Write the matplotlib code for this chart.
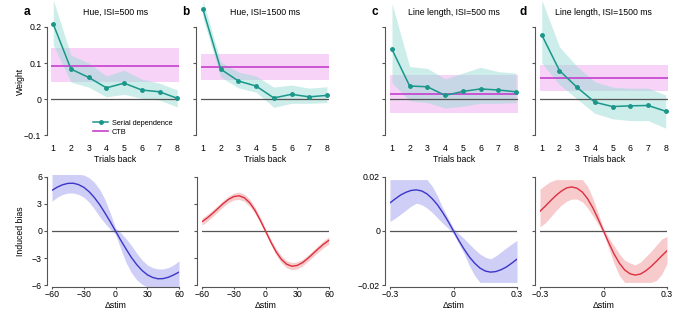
import matplotlib
matplotlib.use("Agg")
import matplotlib.pyplot as plt
import numpy as np

plt.rcParams['font.family'] = ['Liberation Sans', 'DejaVu Sans']
plt.rcParams['axes.unicode_minus'] = True

# ---------------- data: top row (weights vs trials back) ----------------
lags = [1, 2, 3, 4, 5, 6, 7, 8]

hue500_w = [0.208, 0.083, 0.060, 0.031, 0.044, 0.025, 0.020, 0.002]
hue500_hi = [0.275, 0.122, 0.100, 0.064, 0.080, 0.055, 0.044, 0.025]
hue500_lo = [0.150, 0.047, 0.033, 0.006, 0.013, 0.002, -0.003, -0.022]
hue500_ctb = [0.093, 0.046, 0.143]  # mean, low, high

hue1500_w = [0.249, 0.083, 0.050, 0.036, 0.003, 0.013, 0.006, 0.010]
hue1500_hi = [0.275, 0.103, 0.075, 0.064, 0.033, 0.039, 0.030, 0.034]
hue1500_lo = [0.225, 0.061, 0.031, 0.019, -0.023, -0.012, -0.012, -0.010]
hue1500_ctb = [0.090, 0.054, 0.125]

len500_w = [0.138, 0.036, 0.034, 0.010, 0.021, 0.028, 0.025, 0.020]
len500_hi = [0.265, 0.090, 0.085, 0.056, 0.072, 0.088, 0.076, 0.072]
len500_lo = [0.045, -0.005, -0.010, -0.025, -0.020, -0.012, -0.012, -0.010]
len500_ctb = [0.013, -0.038, 0.068]

len1500_w = [0.178, 0.079, 0.032, -0.009, -0.021, -0.019, -0.018, -0.034]
len1500_hi = [0.275, 0.145, 0.090, 0.048, 0.033, 0.030, 0.030, 0.011]
len1500_lo = [0.100, 0.040, 0.000, -0.040, -0.055, -0.060, -0.060, -0.081]
len1500_ctb = [0.058, 0.021, 0.094]

titles = ["Hue, ISI=500 ms", "Hue, ISI=1500 ms",
          "Line length, ISI=500 ms", "Line length, ISI=1500 ms"]
letters = ["a", "b", "c", "d"]

# ---------------- data: bottom row (induced bias vs delta stim) ----------------
hue_dstim = [-60, -55, -50, -45, -40, -35, -30, -25, -20, -15, -10, -5, 0,
             5, 10, 15, 20, 25, 30, 35, 40, 45, 50, 55, 60]
len_dstim = [-0.3, -0.275, -0.25, -0.225, -0.2, -0.175, -0.15, -0.125, -0.1, -0.075, -0.05, -0.025, 0.0,
             0.025, 0.05, 0.075, 0.1, 0.125, 0.15, 0.175, 0.2, 0.225, 0.25, 0.275, 0.3]

hue500_bias = [4.50, 4.86, 5.12, 5.27, 5.29, 5.14, 4.84, 4.36, 3.71, 2.93, 2.00, 1.03, 0.0,
               -1.03, -2.00, -2.93, -3.71, -4.36, -4.84, -5.14, -5.29, -5.27, -5.12, -4.86, -4.55]
hue500_bias_hi = [6.3, 6.3, 6.3, 6.3, 6.3, 6.3, 6.2, 5.9, 5.4, 4.6, 3.5, 2.0, 0.35,
                  -0.2, -0.85, -1.6, -2.45, -3.2, -3.75, -4.05, -4.2, -4.2, -4.05, -3.75, -3.3]
hue500_bias_lo = [3.3, 3.75, 4.05, 4.2, 4.2, 4.05, 3.75, 3.2, 2.45, 1.6, 0.85, 0.2, -0.35,
                  -2.0, -3.5, -4.6, -5.4, -5.9, -6.2, -6.3, -6.3, -6.3, -6.3, -6.3, -6.3]

hue1500_bias = [1.03, 1.45, 1.95, 2.49, 3.03, 3.50, 3.81, 3.90, 3.68, 3.14, 2.30, 1.21, 0.0,
                -1.21, -2.30, -3.14, -3.68, -3.90, -3.81, -3.50, -3.03, -2.49, -1.95, -1.45, -1.03]
hue1500_bias_hi = [1.43, 1.83, 2.31, 2.84, 3.38, 3.86, 4.19, 4.30, 4.08, 3.52, 2.65, 1.51, 0.28,
                   -0.91, -1.95, -2.76, -3.28, -3.50, -3.43, -3.14, -2.68, -2.14, -1.59, -1.07, -0.63]
hue1500_bias_lo = [0.63, 1.07, 1.59, 2.14, 2.68, 3.14, 3.43, 3.50, 3.28, 2.76, 1.95, 0.91, -0.28,
                   -1.51, -2.65, -3.52, -4.08, -4.30, -4.19, -3.86, -3.38, -2.84, -2.31, -1.83, -1.43]

len500_bias = [0.0104, 0.0119, 0.0133, 0.0143, 0.0150, 0.0152, 0.0148, 0.0137, 0.0119, 0.0096, 0.0067, 0.0035, 0.0,
               -0.0035, -0.0067, -0.0096, -0.0119, -0.0137, -0.0148, -0.0152, -0.0150, -0.0143, -0.0133, -0.0119, -0.0104]
len500_bias_hi = [0.019, 0.019, 0.019, 0.019, 0.019, 0.019, 0.019, 0.019, 0.0165, 0.0128, 0.0084, 0.0047, 0.001,
                  -0.001, -0.0028, -0.0048, -0.0068, -0.0085, -0.0097, -0.0103, -0.0092, -0.0077, -0.0062, -0.0048, -0.0035]
len500_bias_lo = [0.0035, 0.0048, 0.0062, 0.0077, 0.0092, 0.0103, 0.0097, 0.0085, 0.0068, 0.0048, 0.0028, 0.001, -0.001,
                  -0.0047, -0.0084, -0.0128, -0.0165, -0.019, -0.019, -0.019, -0.019, -0.019, -0.019, -0.019, -0.019]

len1500_bias = [0.0073, 0.0092, 0.0112, 0.0131, 0.0147, 0.0159, 0.0163, 0.0158, 0.0144, 0.0119, 0.0085, 0.0044, 0.0,
                -0.0044, -0.0085, -0.0119, -0.0144, -0.0158, -0.0163, -0.0159, -0.0147, -0.0131, -0.0112, -0.0092, -0.0073]
len1500_bias_hi = [0.0155, 0.0170, 0.0183, 0.0190, 0.0190, 0.0190, 0.0190, 0.0190, 0.0190, 0.0165, 0.0120, 0.0065, 0.001,
                   -0.0025, -0.0055, -0.0085, -0.0108, -0.0118, -0.0125, -0.0115, -0.0095, -0.0075, -0.0052, -0.0030, -0.0020]
len1500_bias_lo = [0.0015, 0.0030, 0.0052, 0.0075, 0.0095, 0.0110, 0.0118, 0.0118, 0.0108, 0.0085, 0.0055, 0.0025, -0.001,
                   -0.0065, -0.0120, -0.0165, -0.0190, -0.0190, -0.0190, -0.0190, -0.0190, -0.0190, -0.0183, -0.0160, -0.0120]

# ---------------- styling ----------------
TEAL = '#1a968a'
TEAL_BAND = '#9adcd5'
MAG = '#c63fcf'
PINK_BAND = '#f2b6f2'
BLUE = '#3b36c8'
BLUE_BAND = '#c9c9f7'
RED = '#dd2f3e'
RED_BAND = '#f7c5c7'
GRAY = '#555555'
FS = 6.3
FS_LEG = 5.3

W, H = 691, 316
fig = plt.figure(figsize=(W / 100, H / 100), dpi=100)


def axes_px(left, top, width, height):
    return fig.add_axes([left / W, 1 - (top + height) / H, width / W, height / H])


top_lefts = [51.5, 201.2, 390.2, 540.0]
bot_lefts = [52.0, 202.0, 390.0, 540.0]
letter_x = [24, 182, 371, 520]

top_sets = [
    (hue500_w, hue500_lo, hue500_hi, hue500_ctb),
    (hue1500_w, hue1500_lo, hue1500_hi, hue1500_ctb),
    (len500_w, len500_lo, len500_hi, len500_ctb),
    (len1500_w, len1500_lo, len1500_hi, len1500_ctb),
]

bot_sets = [
    (hue_dstim, hue500_bias, hue500_bias_lo, hue500_bias_hi, BLUE, BLUE_BAND),
    (hue_dstim, hue1500_bias, hue1500_bias_lo, hue1500_bias_hi, RED, RED_BAND),
    (len_dstim, len500_bias, len500_bias_lo, len500_bias_hi, BLUE, BLUE_BAND),
    (len_dstim, len1500_bias, len1500_bias_lo, len1500_bias_hi, RED, RED_BAND),
]


def style_spines(ax, bottom=True):
    for s in ['top', 'right']:
        ax.spines[s].set_visible(False)
    ax.spines['left'].set_position(('outward', 3.5))
    ax.spines['left'].set_color(GRAY)
    ax.spines['left'].set_linewidth(0.8)
    if bottom:
        ax.spines['bottom'].set_color(GRAY)
        ax.spines['bottom'].set_linewidth(0.8)
    else:
        ax.spines['bottom'].set_visible(False)
    ax.tick_params(axis='both', labelsize=FS, color=GRAY, width=0.8, length=2.2, pad=1.5)


for i, (w, lo, hi, ctb) in enumerate(top_sets):
    ax = axes_px(top_lefts[i], 1.8, 127.5, 136.8)
    ax.axhspan(ctb[1], ctb[2], color=PINK_BAND, alpha=0.6, lw=0, zorder=1)
    ax.fill_between(lags, lo, hi, color=TEAL_BAND, alpha=0.5, lw=0, zorder=2)
    ax.axhline(0, color=GRAY, lw=0.9, zorder=3)
    ax.axhline(ctb[0], color=MAG, lw=1.2, zorder=4, label='CTB')
    ax.plot(lags, w, color=TEAL, lw=1.1, marker='o', ms=2.5, zorder=5,
            label='Serial dependence')
    ax.set_xlim(0.9, 8.1)
    ax.set_ylim(-0.11, 0.27)
    style_spines(ax, bottom=False)
    ax.spines['left'].set_bounds(-0.1, 0.2)
    ax.set_yticks([-0.1, 0, 0.1, 0.2])
    ax.set_xticks(lags)
    ax.tick_params(axis='x', length=0, pad=4)
    ax.set_xlabel('Trials back', fontsize=FS, labelpad=1)
    if i == 0:
        ax.set_yticklabels(['\u22120.1', '0', '0.1', '0.2'])
        ax.set_ylabel('Weight', fontsize=FS)
        ax.yaxis.set_label_coords(-0.21, 0.42)
        h, l = ax.get_legend_handles_labels()
        ax.legend(h[::-1], l[::-1], loc='lower right', bbox_to_anchor=(0.97, 0.0),
                  frameon=False, fontsize=FS_LEG, handlelength=2.1, handletextpad=0.45,
                  labelspacing=0.2, borderaxespad=0.0)
    else:
        ax.set_yticklabels([])
    ax.text(0.5, 0.925, titles[i], transform=ax.transAxes, ha='center', va='center',
            fontsize=FS)
    fig.text(letter_x[i] / W, 1 - 12 / H, letters[i], fontsize=8.5,
             fontweight='bold', ha='left', va='center')

for i, (x, y, lo, hi, col, band) in enumerate(bot_sets):
    ax = axes_px(bot_lefts[i], 175.0, 127.0, 112.0)
    ax.fill_between(x, lo, hi, color=band, alpha=0.9, lw=0, zorder=1)
    ax.axhline(0, color=GRAY, lw=0.9, zorder=2)
    ax.plot(x, y, color=col, lw=1.0, zorder=3)
    style_spines(ax, bottom=True)
    ax.tick_params(axis='x', length=1.5, pad=1.0)
    if i < 2:
        ax.set_xlim(-60, 60)
        ax.set_ylim(-6.2, 6.2)
        ax.spines['left'].set_bounds(-6, 6)
        ax.set_yticks([-6, -3, 0, 3, 6])
        ax.set_xticks([-60, -30, 0, 30, 60])
        ax.set_xticklabels(['\u221260', '\u221230', '0', '30', '60'])
        if i == 0:
            ax.set_yticklabels(['\u22126', '\u22123', '0', '3', '6'])
            ax.set_ylabel('Induced bias', fontsize=FS)
            ax.yaxis.set_label_coords(-0.213, 0.5)
        else:
            ax.set_yticklabels([])
    else:
        ax.set_xlim(-0.3, 0.3)
        ax.set_ylim(-0.0207, 0.0207)
        ax.spines['left'].set_bounds(-0.02, 0.02)
        ax.set_yticks([-0.02, 0, 0.02])
        ax.set_xticks([-0.3, 0, 0.3])
        ax.set_xticklabels(['\u22120.3', '0', '0.3'])
        if i == 2:
            ax.set_yticklabels(['\u22120.02', '0', '0.02'])
        else:
            ax.set_yticklabels([])
    ax.set_xlabel('\u0394stim', fontsize=FS, labelpad=1)

fig.savefig('out.png', dpi=100)
